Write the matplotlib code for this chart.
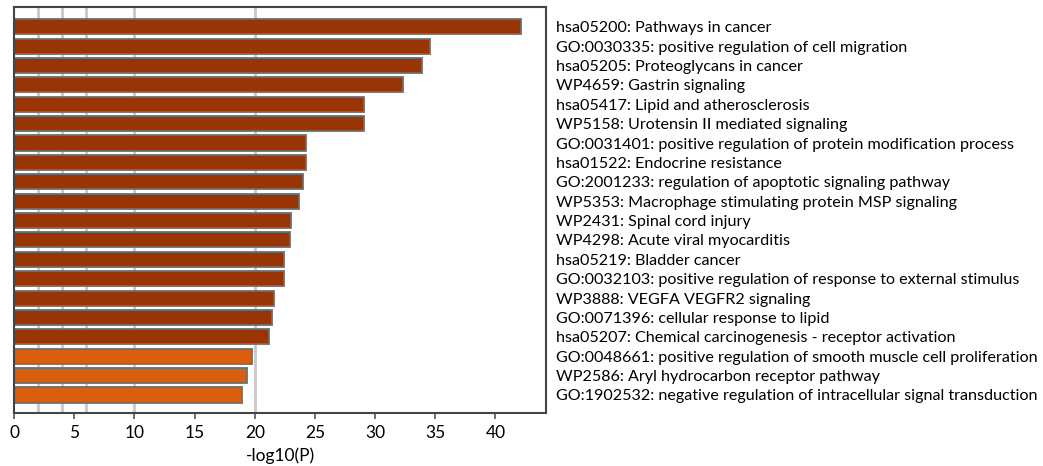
import numpy as np
import matplotlib
matplotlib.use("Agg")
import matplotlib.pyplot as plt

# enrichment terms, top to bottom
terms = [
    "hsa05200: Pathways in cancer",
    "GO:0030335: positive regulation of cell migration",
    "hsa05205: Proteoglycans in cancer",
    "WP4659: Gastrin signaling",
    "hsa05417: Lipid and atherosclerosis",
    "WP5158: Urotensin II mediated signaling",
    "GO:0031401: positive regulation of protein modification process",
    "hsa01522: Endocrine resistance",
    "GO:2001233: regulation of apoptotic signaling pathway",
    "WP5353: Macrophage stimulating protein MSP signaling",
    "WP2431: Spinal cord injury",
    "WP4298: Acute viral myocarditis",
    "hsa05219: Bladder cancer",
    "GO:0032103: positive regulation of response to external stimulus",
    "WP3888: VEGFA VEGFR2 signaling",
    "GO:0071396: cellular response to lipid",
    "hsa05207: Chemical carcinogenesis - receptor activation",
    "GO:0048661: positive regulation of smooth muscle cell proliferation",
    "WP2586: Aryl hydrocarbon receptor pathway",
    "GO:1902532: negative regulation of intracellular signal transduction",
]
logp = [42.1, 34.6, 33.9, 32.3, 29.1, 29.1, 24.25, 24.25, 23.98, 23.67,
        23.0, 22.95, 22.4, 22.4, 21.6, 21.4, 21.2, 19.8, 19.35, 18.95]
grid_x = [2, 4, 6, 10, 20]
xticks = [0, 5, 10, 15, 20, 25, 30, 35, 40]

plt.rcParams['font.family'] = ['Lato', 'DejaVu Sans']

fig = plt.figure(figsize=(10.43, 4.66), dpi=100)
ax = fig.add_axes([14 / 1043, 1 - 413 / 466, (546 - 14) / 1043, (413 - 7) / 466])

colors = ['#993404' if v >= 20 else '#d95f0e' for v in logp]
y = np.arange(len(terms))
for gx in grid_x:
    ax.axvline(gx, color='#c8c8c8', lw=2, zorder=0)
ax.barh(y, logp, height=0.78, color=colors, edgecolor='#6e6e6e', linewidth=1.3, zorder=2)

ax.set_xlim(0, 44.2)
ax.set_ylim(19.93, -1.02)
ax.set_xticks(xticks)
ax.tick_params(axis='x', labelsize=12.5, length=4, width=1.2, color='#555555', pad=5)
ax.set_xlabel('-log10(P)', fontsize=12.5, labelpad=4)

ax.yaxis.tick_right()
ax.set_yticks(y)
ax.set_yticklabels(terms, fontsize=11.6)
ax.tick_params(axis='y', length=0, pad=7)

for s in ax.spines.values():
    s.set_color('#444444')
    s.set_linewidth(1.5)

fig.savefig('out.png', dpi=100)
